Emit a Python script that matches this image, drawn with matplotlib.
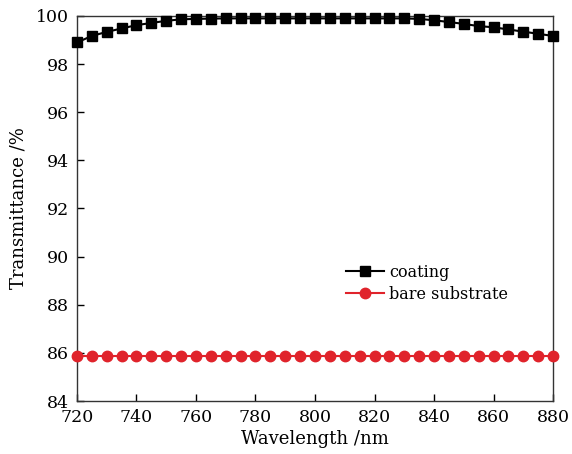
import numpy as np
import matplotlib.pyplot as plt

plt.rcParams['font.family'] = ['DejaVu Serif']
plt.rcParams['mathtext.fontset'] = 'dejavuserif'

wavelength = list(range(720, 881, 5))
coating = [98.90, 99.17, 99.34, 99.48, 99.62, 99.71, 99.80, 99.86, 99.88, 99.89,
           99.90, 99.90, 99.90, 99.90, 99.90, 99.90, 99.90, 99.90, 99.90, 99.90,
           99.90, 99.90, 99.90, 99.88, 99.82, 99.75, 99.67, 99.58, 99.53, 99.44,
           99.35, 99.26, 99.17]
bare = [85.88] * len(wavelength)

x_ticks = [720, 740, 760, 780, 800, 820, 840, 860, 880]
y_ticks = [84, 86, 88, 90, 92, 94, 96, 98, 100]

fig = plt.figure(figsize=(5.72, 4.54), dpi=100)
ax = fig.add_axes([0.1346, 0.1167, 0.8322, 0.8481])

ax.plot(wavelength, coating, color='black', marker='s', markersize=7,
        linewidth=1.5, label='coating', clip_on=False, zorder=3)
ax.plot(wavelength, bare, color='#e0232b', marker='o', markersize=7.5,
        linewidth=1.5, label='bare substrate', clip_on=False, zorder=3)

ax.set_xlim(720, 880)
ax.set_ylim(84, 100)
ax.set_xticks(x_ticks)
ax.set_yticks(y_ticks)
ax.tick_params(direction='in', length=5, width=1, labelsize=12.5)
ax.tick_params(axis='y', pad=6)
ax.tick_params(axis='x', pad=5.5)
for s in ax.spines.values():
    s.set_linewidth(1)
    s.set_color('#333333')

ax.set_xlabel('Wavelength /nm', fontsize=13, labelpad=3)
ax.set_ylabel('Transmittance /%', fontsize=13, labelpad=6)

ax.legend(loc='upper left', bbox_to_anchor=(0.552, 0.373), frameon=False,
          fontsize=11.5, handlelength=2.4, handletextpad=0.3, labelspacing=0.3,
          borderaxespad=0)

fig.savefig('out.png', dpi=100)
